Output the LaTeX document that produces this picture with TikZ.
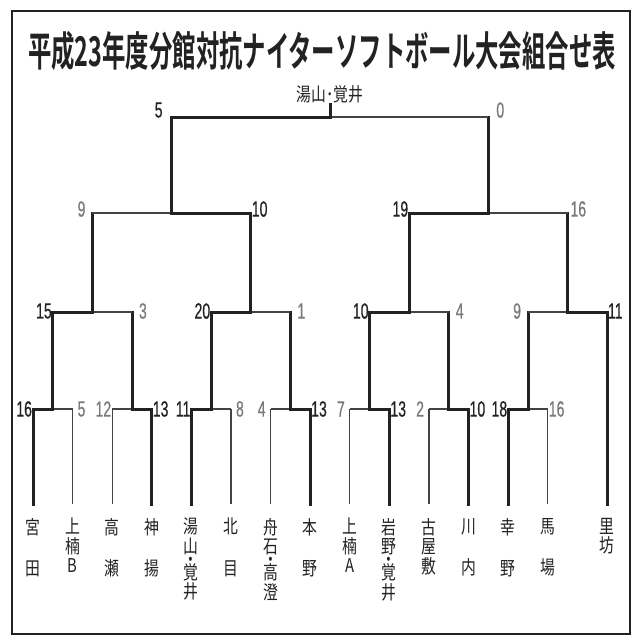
\documentclass[tikz,border=0pt]{standalone}
\usepackage{fontspec}
\setmainfont{Liberation Sans}[FakeStretch=0.64,FakeBold=0.5]
\newfontfamily\jp{Noto Sans CJK JP}[FakeStretch=0.78]
\newfontfamily\jpt{Noto Sans CJK JP Bold}[FakeStretch=0.57]
\usetikzlibrary{calc}
\definecolor{cink}{HTML}{222222}
\definecolor{cgray}{HTML}{7A7A7A}
\tikzset{
  winline/.style={line width=3pt, draw=cink, line cap=rect},
  thinline/.style={line width=1.1pt, draw=cink!85},
  score/.style={inner sep=0.8pt, font=\fontsize{22}{22}\selectfont},
  scl/.style={score, anchor=east},
  scr/.style={score, anchor=west},
  wsc/.style={text=cink},
  lsc/.style={text=cgray},
  one/.style={xshift=#1},
  team/.style={anchor=north, align=center, inner sep=0pt, text=cink,
    font=\jp\fontsize{19}{19.5}\selectfont},
}
\begin{document}
\begin{tikzpicture}[x=1pt,y=-1pt]
\useasboundingbox (0,0) rectangle (637,641);
\fill[white] (0,0) rectangle (637,641);
\draw[line width=1.6pt, cink] (12,11) rectangle (630,634);

\node[text=cink, inner sep=0pt] (title) at (322,51)
  {\jpt\fontsize{41}{41}\selectfont 平成23年度分館対抗ナイターソフトボール大会組合せ表};

% leaves
\foreach \i/\x in {0/33,1/72.6,2/112.2,3/151.8,4/191.4,5/231,6/270.6,7/310.2,8/349.8,9/389.4,10/429,11/468.6,12/508.2,13/547.8}{
  \coordinate (b\i) at (\x,504);
  \coordinate (t\i) at (\x,409);
}
\coordinate (b14) at (607,504);
\coordinate (t14) at (607,312);
% round 1 mids and their tops
\foreach \k/\x in {0/52.8,1/132,2/211.2,3/290.4,4/369.6,5/448.8,6/528}{
  \coordinate (m1\k) at (\x,409);
  \coordinate (u1\k) at (\x,312);
}
% round 2
\foreach \k/\x in {0/92.4,1/250.8,2/409.2,3/567.5}{
  \coordinate (m2\k) at (\x,312);
  \coordinate (u2\k) at (\x,213);
}
% round 3
\coordinate (m30) at (171.6,213); \coordinate (u30) at (171.6,117);
\coordinate (m31) at (488.35,213); \coordinate (u31) at (488.35,117);
% final
\coordinate (m4) at (330,117); \coordinate (top) at (330,104);

% leaf lines
\foreach \i in {0,3,4,7,9,11,12,14}{\draw[winline] (b\i) -- (t\i);}
\foreach \i in {1,2,5,6,8,10,13}{\draw[thinline] (b\i) -- (t\i);}

% round 1
\draw[winline] (t0) -- (m10); \draw[thinline] (m10) -- (t1);
\draw[thinline] (t2) -- (m11); \draw[winline] (m11) -- (t3);
\draw[winline] (t4) -- (m12); \draw[thinline] (m12) -- (t5);
\draw[thinline] (t6) -- (m13); \draw[winline] (m13) -- (t7);
\draw[thinline] (t8) -- (m14); \draw[winline] (m14) -- (t9);
\draw[thinline] (t10) -- (m15); \draw[winline] (m15) -- (t11);
\draw[winline] (t12) -- (m16); \draw[thinline] (m16) -- (t13);
\foreach \k in {0,...,6}{\draw[winline] (m1\k) -- (u1\k);}

% round 2
\draw[winline] (u10) -- (m20); \draw[thinline] (m20) -- (u11);
\draw[winline] (u12) -- (m21); \draw[thinline] (m21) -- (u13);
\draw[winline] (u14) -- (m22); \draw[thinline] (m22) -- (u15);
\draw[thinline] (u16) -- (m23); \draw[winline] (m23) -- (t14);
\foreach \k in {0,...,3}{\draw[winline] (m2\k) -- (u2\k);}

% round 3
\draw[thinline] (u20) -- (m30); \draw[winline] (m30) -- (u21);
\draw[winline] (u22) -- (m31); \draw[thinline] (m31) -- (u23);
\draw[winline] (m30) -- (u30);
\draw[winline] (m31) -- (u31);

% final
\draw[winline] (u30) -- (m4); \draw[thinline] (m4) -- (u31);
\draw[winline] (m4) -- (top);
\node[anchor=south, inner sep=1pt, text=cink, font=\jp\fontsize{19}{19}\selectfont] (champ) at (top) {湯山･覚井};

% scores round 1
\node[scl,wsc] (s0a) at (t0) {16};  \node[scr,lsc,one=4pt] (s0b) at (t1) {5};
\node[scl,lsc] (s1a) at (t2) {12};  \node[scr,wsc] (s1b) at (t3) {13};
\node[scl,wsc] (s2a) at (t4) {11};  \node[scr,lsc,one=4pt] (s2b) at (t5) {8};
\node[scl,lsc,one=-4pt] (s3a) at (t6) {4};   \node[scr,wsc] (s3b) at (t7) {13};
\node[scl,lsc,one=-4pt] (s4a) at (t8) {7};   \node[scr,wsc] (s4b) at (t9) {13};
\node[scl,lsc,one=-4pt] (s5a) at (t10) {2};  \node[scr,wsc] (s5b) at (t11) {10};
\node[scl,wsc] (s6a) at (t12) {18}; \node[scr,lsc] (s6b) at (t13) {16};
% round 2
\node[scl,wsc,yshift=1pt] (r0a) at (u10) {15}; \node[scr,lsc,yshift=1pt,one=6pt] (r0b) at (u11) {3};
\node[scl,wsc,yshift=1pt] (r1a) at (u12) {20}; \node[scr,lsc,yshift=1pt,one=6pt] (r1b) at (u13) {1};
\node[scl,wsc,yshift=1pt] (r2a) at (u14) {10}; \node[scr,lsc,yshift=1pt,one=6pt] (r2b) at (u15) {4};
\node[scl,lsc,yshift=1pt,one=-6pt] (r3a) at (u16) {9};  \node[scr,wsc,yshift=1pt] (r3b) at (t14) {11};
% round 3
\node[scl,lsc,yshift=4pt,one=-6pt] (q0a) at (u20) {9};  \node[scr,wsc,yshift=4pt] (q0b) at (u21) {10};
\node[scl,wsc,yshift=4pt] (q1a) at (u22) {19}; \node[scr,lsc,yshift=4pt,one=2pt] (q1b) at (u23) {16};
% final
\node[scl,wsc,yshift=7pt,one=-8pt] (fa) at (u30) {5};
\node[scr,lsc,yshift=7pt,one=7pt] (fb) at (u31) {0};

% team names
\node[team] (n0) at ($(b0)+(0,14)$) {宮\\[22pt]田};
\node[team] (n1) at ($(b1)+(0,14)$) {上\\楠\\B};
\node[team] (n2) at ($(b2)+(0,14)$) {高\\[22pt]瀬};
\node[team] (n3) at ($(b3)+(0,14)$) {神\\[22pt]揚};
\node[team] (n4) at ($(b4)+(0,14)$) {湯\\山\\[-6.5pt]・\\[-6.5pt]覚\\井};
\node[team] (n5) at ($(b5)+(0,14)$) {北\\[22pt]目};
\node[team] (n6) at ($(b6)+(0,14)$) {舟\\石\\[-6.5pt]・\\[-6.5pt]高\\澄};
\node[team] (n7) at ($(b7)+(0,14)$) {本\\[22pt]野};
\node[team] (n8) at ($(b8)+(0,14)$) {上\\楠\\A};
\node[team] (n9) at ($(b9)+(0,14)$) {岩\\野\\[-6.5pt]・\\[-6.5pt]覚\\井};
\node[team] (n10) at ($(b10)+(0,14)$) {古\\屋\\敷};
\node[team] (n11) at ($(b11)+(0,14)$) {川\\[22pt]内};
\node[team] (n12) at ($(b12)+(0,14)$) {幸\\[22pt]野};
\node[team] (n13) at ($(b13)+(0,14)$) {馬\\[22pt]場};
\node[team] (n14) at ($(b14)+(0,14)$) {里\\坊};
\end{tikzpicture}
\end{document}
